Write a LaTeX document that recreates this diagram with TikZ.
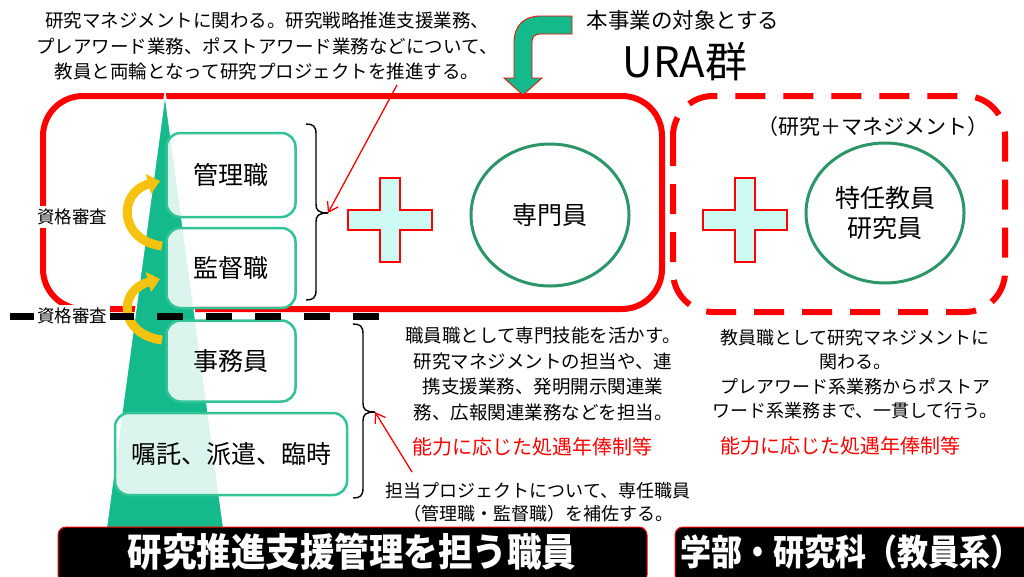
\documentclass[tikz,border=0pt]{standalone}
\usepackage{fontspec}
\setmainfont{Noto Sans CJK JP}
\usetikzlibrary{shapes.geometric,arrows.meta,calc}
\definecolor{tri}{RGB}{20,185,140}
\definecolor{boxg}{RGB}{50,195,150}
\definecolor{ellg}{RGB}{45,150,105}
\definecolor{crossf}{RGB}{205,250,242}
\definecolor{ured}{RGB}{255,0,0}
\definecolor{yel}{RGB}{245,195,15}
\newcommand\myfs[2]{\fontsize{#1}{#2}\selectfont}
\begin{document}
\begin{tikzpicture}[x=1pt,y=-1pt,
  rolebox/.style={draw=boxg, line width=2.5pt, rounded corners=14pt, fill=white, fill opacity=0.85, text opacity=1, font=\myfs{25}{30}},
  txt/.style={inner sep=0pt, align=center, font=\myfs{18.5}{25.5}},
  redtxt/.style={inner sep=0pt, text=ured, font=\myfs{20}{24}},
  lbl/.style={fill=white, inner sep=3pt, font=\myfs{17.5}{20}},
  ell/.style={ellipse, draw=ellg, line width=3pt, align=center, font=\myfs{25}{30}, inner sep=0pt},
  crossst/.style={draw=ured, line width=1.2pt, fill=crossf},
  bar/.style={fill=black, draw=ured, line width=1pt, rounded corners=8pt, text=white},
  redarrow/.style={draw=ured, line width=1.3pt, -{Straight Barb[length=9pt,width=12pt]}},
  yarrow/.style={draw=yel, line width=9pt, -{Triangle[length=12pt,width=20pt]}},
  bracest/.style={draw=black, line width=1.4pt}
]
\fill[white] (0,0) rectangle (1024,576);
\useasboundingbox (0,0) rectangle (1024,576);

% frames
\draw[ured, line width=6pt, rounded corners=40pt] (43,96) rectangle (662,309);
\draw[ured, line width=6pt, rounded corners=40pt, dash pattern=on 30pt off 18pt] (673,96) rectangle (1005,312);

% label over left edge
\node[lbl] (q1) at (72,217) {資格審査};

% tower triangle
\draw[fill=tri, draw=white, line width=1.5pt] (165,93) -- (224,530) -- (106,530) -- cycle;

% yellow arrows
\coordinate (y1s) at (162,246);
\coordinate (y1e) at (160,181);
\coordinate (y2s) at (162,340);
\coordinate (y2e) at (160,279);
\draw[yarrow] (y1s) .. controls (118,240) and (118,192) .. (y1e);
\draw[yarrow] (y2s) .. controls (118,334) and (118,290) .. (y2e);

% role boxes
\node[rolebox, minimum width=129pt, minimum height=84pt] (kanri) at (231,175) {管理職};
\node[rolebox, minimum width=129pt, minimum height=80pt] (kantoku) at (231,268) {監督職};
\node[rolebox, minimum width=129pt, minimum height=81pt] (jimu) at (231,361) {事務員};
\node[rolebox, minimum width=232pt, minimum height=82pt] (shokutaku) at (231,454) {嘱託、派遣、臨時};

% dashed black line
\draw[black, line width=7pt, dash pattern=on 26pt off 23pt] (10,316) -- (382,316);
\node[lbl] (q2) at (72,316) {資格審査};

% braces
\coordinate (b1tip) at (328,213);
\coordinate (b2tip) at (375,412);
\draw[bracest] (306,124) .. controls (313,124) and (316,126) .. (316,134) -- (316,204)
  .. controls (316,210) and (318,213) .. (b1tip);
\draw[bracest] (b1tip) .. controls (318,213) and (316,216) .. (316,222) -- (316,290)
  .. controls (316,298) and (313,300) .. (306,300);
\draw[bracest] (353,324) .. controls (360,324) and (363,326) .. (363,334) -- (363,403)
  .. controls (363,409) and (365,412) .. (b2tip);
\draw[bracest] (b2tip) .. controls (365,412) and (363,415) .. (363,421) -- (363,488)
  .. controls (363,496) and (360,498) .. (353,498);

% crosses and ellipses
\draw[crossst, shift={(390,220)}] (-10,-42) -- (10,-42) -- (10,-10) -- (42,-10) -- (42,10) -- (10,10) -- (10,42) -- (-10,42) -- (-10,10) -- (-42,10) -- (-42,-10) -- (-10,-10) -- cycle;
\draw[crossst, shift={(745,220)}] (-10,-42) -- (10,-42) -- (10,-10) -- (42,-10) -- (42,10) -- (10,10) -- (10,42) -- (-10,42) -- (-10,10) -- (-42,10) -- (-42,-10) -- (-10,-10) -- cycle;
\node[ell, minimum width=158pt, minimum height=142pt] (senmon) at (550,215) {専門員};
\node[ell, minimum width=158pt, minimum height=140pt] (tokunin) at (885,213) {特任教員\\研究員};
\node[inner sep=0pt, font=\myfs{21}{24}] (kenman) at (873,127) {（研究＋マネジメント）};

% top texts
\node[txt] (toptext) at (267,46) {研究マネジメントに関わる。研究戦略推進支援業務、\\プレアワード業務、ポストアワード業務などについて、\\教員と両輪となって研究プロジェクトを推進する。};
\node[inner sep=0pt, font=\myfs{21.5}{24}] (jigyo) at (683,20) {本事業の対象とする};
\node[inner sep=0pt, font=\myfs{42}{46}] (ura) at (685,62) {URA群};

% green bent arrow
\draw[fill=tri, draw=ured, line width=0.8pt] (572,16) -- (540,16) .. controls (524,16) and (514,26) .. (514,42) -- (514,78) -- (504,78) -- (523,95) -- (542,78) -- (532,78) -- (532,42) .. controls (532,37) and (535,34) .. (540,34) -- (572,34) -- cycle;

% middle texts
\node[txt] (shokuin) at (543,374) {職員職として専門技能を活かす。\\研究マネジメントの担当や、連\\携支援業務、発明開示関連業\\務、広報関連業務などを担当。};
\node[redtxt] (noryoku1) at (532,447) {能力に応じた処遇年俸制等};
\node[txt, font=\myfs{18}{23}] (tanto) at (538,502) {担当プロジェクトについて、専任職員\\（管理職・監督職）を補佐する。};

\node[txt, font=\myfs{18}{24.5}] (kyoin) at (855,374) {教員職として研究マネジメントに\\関わる。\\プレアワード系業務からポストア\\ワード系業務まで、一貫して行う。};
\node[redtxt] (noryoku2) at (840,446) {能力に応じた処遇年俸制等};

% red arrows
\coordinate (a1s) at (397,85);
\coordinate (a2s) at (412,472);
\draw[redarrow] (a1s) -- (b1tip);
\draw[redarrow] (a2s) -- (b2tip);

% bottom bars
\node[bar, minimum width=589pt, minimum height=56pt] (barL) at (352.5,555) {};
\node[inner sep=0pt, text=white, font=\bfseries\myfs{34.5}{38}] (barLt) at (352,552) {\scalebox{1}[1.12]{研究推進支援管理を担う職員}};
\node[bar, minimum width=360pt, minimum height=56pt] (barR) at (855,555) {};
\node[inner sep=0pt, text=white, font=\bfseries\myfs{31}{34}] (barRt) at (851,552) {\scalebox{1}[1.15]{学部・研究科（教員系）}};
\end{tikzpicture}
\end{document}
